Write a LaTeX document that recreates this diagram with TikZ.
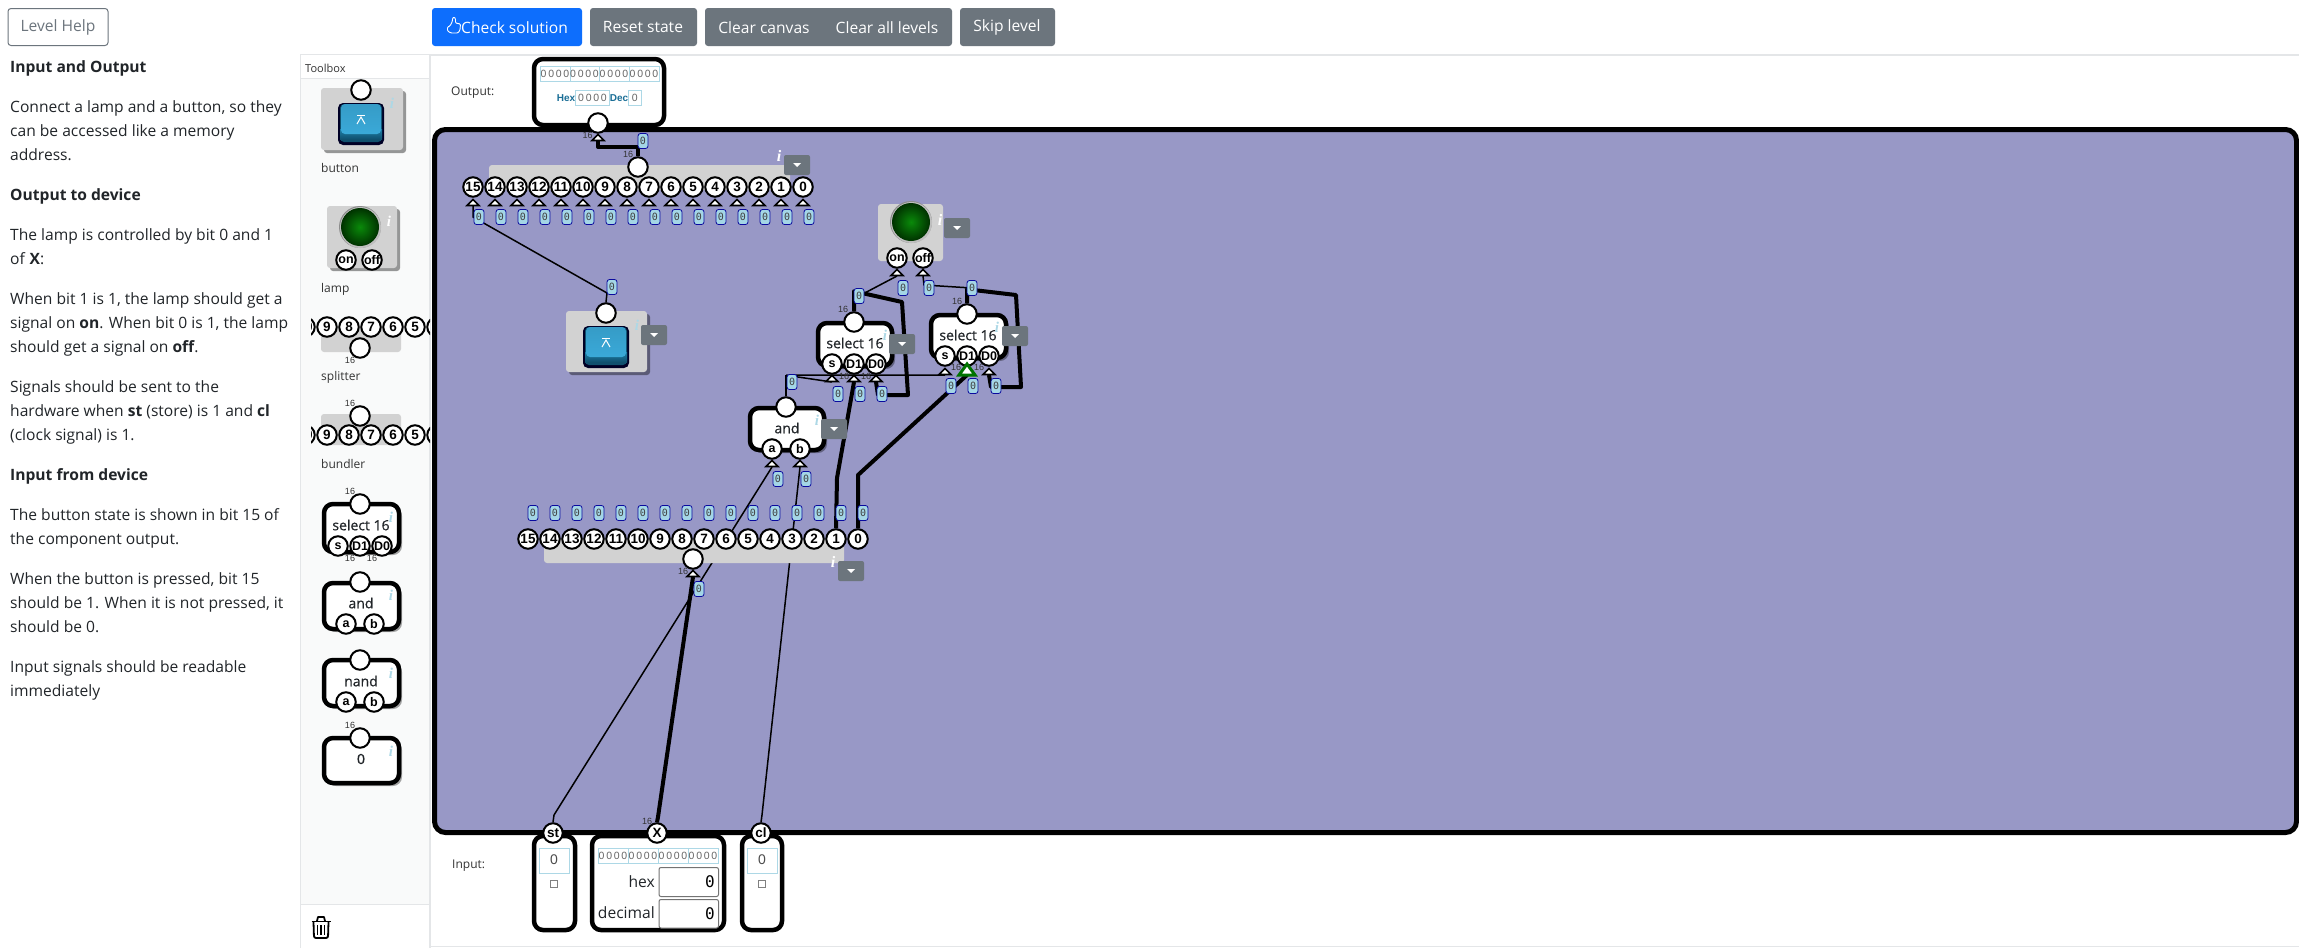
\documentclass[tikz,border=0pt]{standalone}
\usepackage{fontspec}
\setmainfont{Open Sans}
\newfontfamily\monof{DejaVu Sans Mono}
\newfontfamily\armf{Liberation Sans}
\newfontfamily\serf{Liberation Serif}
\newfontfamily\compf[RawFeature={embolden=0.6}]{Open Sans}
\usetikzlibrary{shadows,calc}
\pgfdeclarelayer{bgc}\pgfdeclarelayer{wires}
\pgfsetlayers{bgc,wires,main}
\definecolor{canvasc}{HTML}{9898C6}
\definecolor{btngray}{HTML}{6C757D}
\definecolor{btnblue}{HTML}{0D6EFD}
\definecolor{lgray}{HTML}{D2D2D2}
\definecolor{panelb}{HTML}{E4E6E8}
\definecolor{panelf}{HTML}{F9FAFA}
\definecolor{txt}{HTML}{212529}
\definecolor{tagf}{HTML}{A4D6E6}
\definecolor{tagb}{HTML}{0A0A9E}
\definecolor{bitb}{HTML}{ADD8E6}
\definecolor{ic}{HTML}{ADD8E6}
\definecolor{hexc}{HTML}{1A6E96}
\definecolor{keydark}{HTML}{1E7FA8}
\definecolor{keylow}{HTML}{10506E}
\definecolor{keytop}{HTML}{3AA9D8}
\definecolor{lampin}{HTML}{0A8A0A}
\definecolor{lampout}{HTML}{003200}
\newcommand\fs[1]{\fontsize{#1}{#1}\selectfont}
\tikzset{
  x=1pt,y=-1pt,
  para/.style={anchor=base west,inner sep=0,text=txt,font=\fs{15.6}},
  parb/.style={para,font=\fs{15.6}\bfseries},
  tbtn/.style={anchor=center,inner sep=0,text=white,font=\fs{15.6}},
  tlabel/.style={anchor=base west,inner sep=0,text=black!80,font=\fs{12}},
  pinc/.style={circle,draw=black,fill=white,line width=2pt,minimum size=19.5pt,inner sep=0,text=black,font=\armf\bfseries\fs{13.5}},
  pinsm/.style={pinc,font=\armf\bfseries\fs{12.5}},
  sixteen/.style={inner sep=0,text=black!80,font=\armf\fs{9}},
  tagn/.style={draw=tagb,fill=tagf,line width=.8pt,rounded corners=2.5pt,minimum width=10pt,minimum height=15pt,inner sep=0,text=black!75,font=\monof\fs{10}},
  thinw/.style={draw=black,line width=1.5pt},
  thickw/.style={draw=black,line width=4pt,line join=round},
  compbox/.style={draw=black,fill=white,line width=4.5pt,rounded corners=9pt,drop shadow={shadow xshift=3pt,shadow yshift=-3pt,opacity=.35,fill=black}},
  graybox/.style={fill=lgray,rounded corners=3pt},
  grayshadow/.style={graybox,drop shadow={shadow xshift=3pt,shadow yshift=-3pt,opacity=.4,fill=black}},
  compt/.style={inner sep=0,text=txt,font=\compf\fs{14}},
  iicon/.style={inner sep=0,text=ic,font=\serf\bfseries\itshape\fs{15}},
  iwhite/.style={iicon,text=white},
  ddbox/.style={fill=btngray,rounded corners=2pt},
  ioframe/.style={draw=black,fill=white,line width=4.5pt,rounded corners=9pt},
  bitcell/.style={draw=bitb,line width=.9pt,fill=white},
  bitt/.style={inner sep=0,text=black!60,font=\armf\fs{10.5}},
}
\newcommand\tri[3]{%
  \filldraw[fill=white,draw=black,line width=1.6pt,line join=miter] (#2-6,#3-.5) -- (#2,#3-6.5) -- (#2+6,#3-.5) -- cycle;
  \coordinate (#1) at (#2,#3);}
\newcommand\ddown[2]{%
  \fill[ddbox] (#1,#2) rectangle +(26,20);
  \fill[white] (#1+9,#2+8) -- (#1+17,#2+8) -- (#1+13,#2+12) -- cycle;}
\newcommand\bluebtn[2]{%
  \fill[black!85!blue,rounded corners=5pt] (#1-23,#2) rectangle (#1+23,#2+42);
  \fill[keylow,rounded corners=4pt] (#1-21,#2+1) rectangle (#1+21,#2+39);
  \shade[top color=keydark,bottom color=keylow] (#1-21,#2+26) rectangle (#1+21,#2+36);
  \shade[top color=keytop!92!black,bottom color=keytop,rounded corners=4pt] (#1-20,#2+1) rectangle (#1+20,#2+31);
  \draw[white,line width=1pt] (#1-4,#2+12) -- (#1+4,#2+12);
  \draw[white,line width=1pt] (#1-4,#2+21) -- (#1,#2+14) -- (#1+4,#2+21);}
\newcommand\lampg[2]{%
  \fill[black!45] (#1,#2) circle (21);
  \fill[white!75!black] (#1+.5,#2+.5) circle (20.5);
  \shade[inner color=lampin,outer color=lampout] (#1,#2) circle (19);}
\begin{document}
\begin{tikzpicture}
\useasboundingbox (0,0) rectangle (2299,948);
\begin{pgfonlayer}{bgc}
\fill[white] (0,0) rectangle (2299,948);
\draw[draw=black,fill=canvasc,line width=5pt,rounded corners=11pt] (434.5,129.5) rectangle (2296.5,832.5);
\end{pgfonlayer}
% ---- Left text
\node[draw=btngray,line width=1pt,rounded corners=3pt,minimum width=100pt,minimum height=37pt,inner sep=0,text=btngray,font=\fs{15.6}] (levelhelp) at (58,27) {Level Help};
\node[parb] (p1) at (10,72) {Input and Output};
\node[para] (p2) at (10,112) {Connect a lamp and a button, so they};
\node[para] (p3) at (10,136) {can be accessed like a memory};
\node[para] (p4) at (10,160) {address.};
\node[parb] (p5) at (10,200) {Output to device};
\node[para] (p6) at (10,240) {The lamp is controlled by bit 0 and 1};
\node[para] (p7) at (10,264) {of \textbf{X}:};
\node[para] (p8) at (10,304) {When bit 1 is 1, the lamp should get a};
\node[para] (p9) at (10,328) {signal on \textbf{on}. When bit 0 is 1, the lamp};
\node[para] (p10) at (10,352) {should get a signal on \textbf{off}.};
\node[para] (p11) at (10,392) {Signals should be sent to the};
\node[para] (p12) at (10,416) {hardware when \textbf{st} (store) is 1 and \textbf{cl}};
\node[para] (p13) at (10,440) {(clock signal) is 1.};
\node[parb] (p14) at (10,480) {Input from device};
\node[para] (p15) at (10,520) {The button state is shown in bit 15 of};
\node[para] (p16) at (10,544) {the component output.};
\node[para] (p17) at (10,584) {When the button is pressed, bit 15};
\node[para] (p18) at (10,608) {should be 1. When it is not pressed, it};
\node[para] (p19) at (10,632) {should be 0.};
\node[para] (p20) at (10,672) {Input signals should be readable};
\node[para] (p21) at (10,696) {immediately};
% ---- Top buttons
\fill[btnblue,rounded corners=3pt] (432,8) rectangle (582,46);
\fill[btngray,rounded corners=3pt] (590,8) rectangle (697,46);
\fill[btngray,rounded corners=3pt] (705,8) rectangle (952,46);
\fill[btngray,rounded corners=3pt] (960,8) rectangle (1055,46);
\draw[white,line width=.9pt,line join=round,rounded corners=1pt] (447.5,27) -- (450,26) -- (452.5,21) -- (452.5,18) -- (454,17) -- (455.5,18.5) -- (455.5,23) -- (460.5,24) -- (460,30) -- (458,33) -- (451,33) -- (447.5,31) -- cycle;
\node[tbtn] (bcheck) at (514.5,27.5) {Check solution};
\node[tbtn] (breset) at (643,27.5) {Reset state};
\node[tbtn] (bclear) at (764,27.5) {Clear canvas};
\node[tbtn] (bclearall) at (887,27.5) {Clear all levels};
\node[tbtn] (bskip) at (1007,27.5) {Skip level};
% ---- frame lines
\draw[panelb,line width=1.5pt] (430,55) -- (2299,55);
\draw[panelb,line width=1.5pt] (430,946.5) -- (2299,946.5);
% ---- Toolbox panel
\fill[panelf] (300,78) rectangle (430,905);
\draw[panelb,line width=1.5pt] (300.5,948) -- (300.5,54.5) -- (430,54.5) -- (430,948);
\draw[panelb,line width=1pt] (300,78) -- (430,78);
\draw[panelb,line width=1pt] (300,904.5) -- (430,904.5);
\fill[white] (301,905.5) rectangle (429,948);
\fill[white] (301,55) rectangle (429,77.5);
\node[anchor=base west,inner sep=0,text=black!80,font=\fs{11}] (toolboxt) at (305,72) {Toolbox};
% trash
\begin{scope}[line width=1.8pt,line join=round]
\draw[black] (311.5,921.5) -- (330.5,921.5);
\draw[black] (317,921) -- (318,917) -- (324,917) -- (325,921);
\draw[black,rounded corners=2pt] (313.5,922) -- (314,938) -- (328,938) -- (328.5,922);
\draw[black,line width=1.3pt] (317.5,925) -- (317.5,935) (321,925) -- (321,935) (324.5,925) -- (324.5,935);
\end{scope}
% toolbox: button
\fill[grayshadow] (321,88) rectangle (403,150);
\bluebtn{361}{103}
\node[iicon] (ti1) at (392,103) {i};
\node[pinc] (tbp) at (361,90) {};
\node[tlabel] (tbl) at (321,172) {button};
% toolbox: lamp
\fill[grayshadow] (327,206) rectangle (397,268);
\lampg{360}{227}
\node[iwhite] (ti2) at (389,221) {i};
\node[pinsm] (tlon) at (346,260) {on};
\node[pinsm] (tloff) at (372,260) {off};
\node[tlabel] (tll) at (321,292) {lamp};
% toolbox: splitter and bundler
\fill[graybox] (321,327) rectangle (401,352);
\fill[graybox] (321,414) rectangle (401,445);
\begin{scope}
\clip (311,300) rectangle (430,460);
\foreach \i/\l in {0/10,1/9,2/8,3/7,4/6,5/5,6/4}{
  \node[pinc] (tsp\i) at (305+\i*22,327) {\l};
  \node[pinc] (tbu\i) at (305+\i*22,435) {\l};
}
\end{scope}
\node[pinc] (tsplit) at (360,348) {};
\node[sixteen] (ts16) at (350,360) {16};
\node[tlabel] (tsl) at (321,380) {splitter};
\node[pinc] (tbund) at (360,416) {};
\node[sixteen] (tb16) at (350,403) {16};
\node[tlabel] (tbdl) at (321,468) {bundler};
% toolbox: select 16
\draw[compbox] (324,504) rectangle (399,552);
\node[compt] (tsel) at (361,525) {select 16};
\node[iicon] (ti3) at (391,517) {i};
\node[pinc] (tselo) at (360,504) {};
\node[sixteen] (tsel16) at (350,491) {16};
\node[pinsm] (tsels) at (338,546) {s};
\node[pinsm] (tseld1) at (360,546) {D1};
\node[pinsm] (tseld0) at (382,546) {D0};
\node[sixteen] (tsel16a) at (350,558) {16};
\node[sixteen] (tsel16b) at (372,558) {16};
% toolbox: and
\draw[compbox] (324,583) rectangle (399,629);
\node[compt] (tand) at (361,603) {and};
\node[iicon] (ti4) at (391,595) {i};
\node[pinc] (tando) at (360,582) {};
\node[pinsm] (tanda) at (346,624) {a};
\node[pinsm] (tandb) at (374,624) {b};
% toolbox: nand
\draw[compbox] (324,660) rectangle (399,706);
\node[compt] (tnand) at (361,681) {nand};
\node[iicon] (ti5) at (391,673) {i};
\node[pinc] (tnando) at (360,660) {};
\node[pinsm] (tnanda) at (346,702) {a};
\node[pinsm] (tnandb) at (374,702) {b};
% toolbox: 0
\draw[compbox] (324,738) rectangle (399,783);
\node[compt] (tzero) at (361,759) {0};
\node[iicon] (ti6) at (391,751) {i};
\node[pinc] (tzeroo) at (360,738) {};
\node[sixteen] (tz16) at (350,725) {16};
% ---- Output device
\node[anchor=west,inner sep=0,text=black!80,font=\fs{12}] (outl) at (451,93) {Output:};
\draw[ioframe] (534,59) rectangle (664,125);
\foreach \a/\b in {540/570,570/599,599/629,629/659}{\draw[bitcell] (\a,66) rectangle (\b,81);}
\foreach \x in {555,584.5,614,644}{\node[bitt] at (\x,73.5) {0\,0\,0\,0};}
\node[inner sep=0,text=hexc,font=\armf\bfseries\fs{10}] (hexl) at (566,98) {Hex};
\draw[bitcell] (575.5,90) rectangle (609.5,105);
\node[bitt] (hexv) at (592.5,97.5) {0\,0\,0\,0};
\node[inner sep=0,text=hexc,font=\armf\bfseries\fs{10}] (decl) at (619,98) {Dec};
\draw[bitcell] (628.5,90) rectangle (641,105);
\node[bitt] (decv) at (634.8,97.5) {0};
\node[pinc] (outp) at (598,123) {};
\tri{outt}{598}{141}
\node[sixteen] (out16) at (587.5,135) {16};
% ---- Input devices
\node[anchor=west,inner sep=0,text=black!80,font=\fs{12}] (inl) at (452,866) {Input:};
\draw[ioframe] (534,836) rectangle (575,930);
\draw[ioframe] (592,836) rectangle (724,930);
\draw[ioframe] (742,836) rectangle (782,930);
\draw[bitcell] (539,848) rectangle (569,873);
\node[inner sep=0,text=black!70,font=\armf\fs{14}] (stv) at (554,860) {0};
\draw[black!50,line width=1pt,fill=white] (550.5,880.5) rectangle (557.5,887.5);
\draw[bitcell] (747,848) rectangle (777,873);
\node[inner sep=0,text=black!70,font=\armf\fs{14}] (clv) at (762,860) {0};
\draw[black!50,line width=1pt,fill=white] (758.5,880.5) rectangle (765.5,887.5);
\foreach \a/\b in {598/628,628/658,658/688,688/718}{\draw[bitcell] (\a,848) rectangle (\b,863);}
\foreach \x in {613,643,673,703}{\node[bitt] at (\x,855.5) {0\,0\,0\,0};}
\node[anchor=base east,inner sep=0,text=txt,font=\fs{15.6}] (hexlb) at (655,887) {hex};
\node[anchor=base east,inner sep=0,text=txt,font=\fs{15.6}] (declb) at (655,918) {decimal};
\draw[black!55,line width=1pt,rounded corners=2pt,fill=white] (659,867.5) rectangle (718.5,896.5);
\draw[black!55,line width=1pt,rounded corners=2pt,fill=white] (659,899.5) rectangle (718.5,928);
\node[anchor=base east,inner sep=0,font=\monof\fs{16}] (hexin) at (715,887) {0};
\node[anchor=base east,inner sep=0,font=\monof\fs{16}] (decin) at (715,919) {0};
\node[pinc] (st) at (553,833) {st};
\node[pinc] (xin) at (657,833) {X};
\node[pinc] (cl) at (761,833) {cl};
\node[sixteen] (x16) at (647,821) {16};
\coordinate (stb) at (554,815);
\coordinate (xb) at (658,817);
\coordinate (clb) at (762,815);
% ---- Top bundler
\fill[graybox] (489,165) rectangle (790,190);
\node[iwhite,font=\serf\bfseries\itshape\fs{16}] (i1) at (779,156) {i};
\ddown{784}{155}
\node[pinc] (bun) at (638,167) {};
\node[sixteen] (bun16) at (628,154) {16};
\node[tagn] (buntag) at (643,141) {0};
\foreach \i [evaluate=\i as \x using 473+(15-\i)*22] in {15,14,...,0}{
  \node[pinc] (bt\i) at (\x,187) {\i};
  \tri{btt\i}{\x}{206}
  \node[tagn] (btg\i) at (\x+6,217) {0};
}
% ---- Canvas button
\fill[grayshadow] (566,311) rectangle (647,372);
\bluebtn{606}{326}
\node[iicon] (i2) at (637,325) {i};
\ddown{641}{325}
\node[pinc] (btnp) at (606,313) {};
\node[tagn] (btntag) at (612,287) {0};
\coordinate (btnw) at (607,293);
% ---- Canvas lamp
\fill[graybox] (878,204) rectangle (943,261);
\lampg{911}{222}
\node[iwhite,font=\serf\bfseries\itshape\fs{16}] (i3) at (940,220) {i};
\ddown{944}{218}
\node[pinsm] (lon) at (897,258) {on};
\node[pinsm] (loff) at (923,258) {off};
\tri{lont}{897}{276}
\tri{lofft}{923}{276}
\node[tagn] (lontag) at (903,288) {0};
\node[tagn] (lofftag) at (929,288) {0};
% ---- Select 1
\draw[compbox] (818,323) rectangle (892,366);
\node[compt] (s1t) at (855,343) {select 16};
\node[iicon] (i4) at (885,335) {i};
\ddown{889}{334}
\node[pinc] (s1o) at (854,322) {};
\node[sixteen] (s116) at (843,309) {16};
\node[tagn] (s1tag) at (859,296) {0};
\node[pinsm] (s1s) at (832,364) {s};
\node[pinsm] (s1a) at (854,364) {D1};
\node[pinsm] (s1b) at (876,364) {D0};
\tri{s1st}{832}{382}
\tri{s1at}{854}{382}
\tri{s1bt}{876}{382}
\node[sixteen] (s116a) at (844,376) {16};
\node[sixteen] (s116b) at (866,376) {16};
\node[tagn] (s1stag) at (838,394) {0};
\node[tagn] (s1atag) at (860,394) {0};
\node[tagn] (s1btag) at (882,394) {0};
% ---- Select 2
\draw[compbox] (931,315) rectangle (1006,358);
\node[compt] (s2t) at (968,335) {select 16};
\node[iicon] (i5) at (997,327) {i};
\ddown{1002}{326}
\node[pinc] (s2o) at (967,314) {};
\node[sixteen] (s216) at (957,301) {16};
\node[tagn] (s2tag) at (972,288) {0};
\node[pinsm] (s2s) at (945,356) {s};
\node[pinsm] (s2a) at (967,356) {D1};
\node[pinsm] (s2b) at (989,356) {D0};
\tri{s2st}{945}{375}
\tri{s2bt}{989}{375}
\coordinate (s2at) at (967,375);
\node[sixteen] (s216a) at (956,367) {16};
\node[sixteen] (s216b) at (979,367) {16};
\filldraw[fill=white,draw=green!45!black,line width=3pt,line join=miter] (959,375) -- (967,364) -- (975,375) -- cycle;
\node[tagn] (s2stag) at (951,386) {0};
\node[tagn] (s2atag) at (973,386) {0};
\node[tagn] (s2btag) at (996,386) {0};
% ---- And
\draw[compbox] (750,408) rectangle (824,450);
\node[compt] (andt) at (787,428) {and};
\node[iicon] (i6) at (817,420) {i};
\ddown{821}{419}
\node[pinc] (ando) at (786,407) {};
\node[tagn] (andtag) at (792,382) {0};
\node[pinsm] (anda) at (772,449) {a};
\node[pinsm] (andb) at (800,449) {b};
\tri{andat}{772}{467}
\tri{andbt}{800}{467}
\node[tagn] (andatag) at (778,479) {0};
\node[tagn] (andbtag) at (806,479) {0};
% ---- Bottom splitter
\fill[graybox] (544,539) rectangle (844,563);
\node[iwhite,font=\serf\bfseries\itshape\fs{16}] (i7) at (833,562) {i};
\ddown{838}{561}
\node[pinc] (spl) at (693,559) {};
\tri{splt}{693}{577}
\node[sixteen] (spl16) at (683,571) {16};
\node[tagn] (spltag) at (699,589) {0};
\foreach \i [evaluate=\i as \x using 528+(15-\i)*22] in {15,14,...,0}{
  \node[pinc] (sp\i) at (\x,539) {\i};
  \node[tagn] (spg\i) at (\x+5,513) {0};
}
% ---- Wires
\begin{pgfonlayer}{wires}
\draw[thickw] (outt) -- ++(0,6) -| (bun.north);
\draw[thinw] (btt15) -- ++(0,11) -- (btnw) -- (btnp.north);
\draw[thinw] (lont) -- (s1tag.center);
\draw[thinw] (lofft) -- ++(1,9) -- (s2tag.center);
\draw[thickw] (s1o.north) -- ++(0,-20) -- (902,302) -- (908,395) -- (878,395) -- (s1bt);
\draw[thickw] (s2o.north) -- ++(0,-14) -- (1016,295) -- (1021,387) -- (991,387) -- (s2bt);
\draw[thinw] (ando.north) -- ++(0,-21) coordinate (andw);
\draw[thinw] (andw) -- (s1st);
\draw[thinw] (andw) -- (s2st);
\draw[thinw] (stb) -- (st.north);
\draw[thinw] (stb) -- (andat);
\draw[thinw] (clb) -- (cl.north);
\draw[thinw] (clb) -- (andbt);
\draw[thickw] (xin.north) -- (xb) -- (splt);
\draw[thickw] (sp1.north) -- (837,478) -- (s1at);
\draw[thickw] (sp0.north) -- (858,475) -- (s2at);
\end{pgfonlayer}
\end{tikzpicture}
\end{document}
